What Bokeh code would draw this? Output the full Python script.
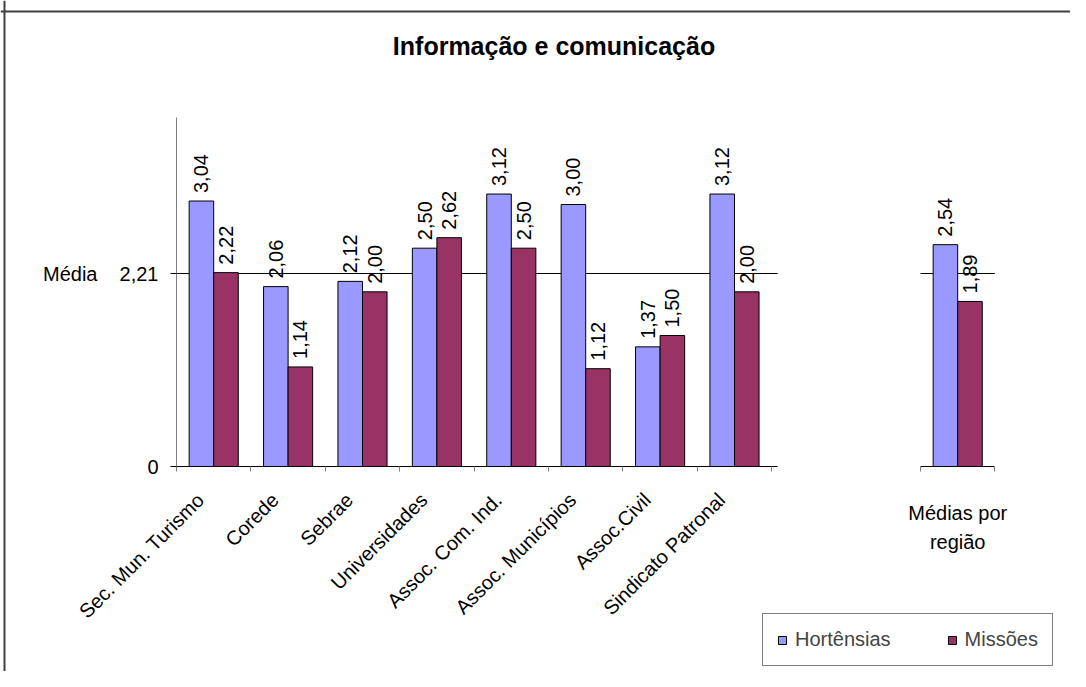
import math
from bokeh.plotting import figure
from bokeh.models import (ColumnDataSource, Range1d, LinearAxis, FixedTicker,
                          Legend, LegendItem, Span)
from bokeh.core.properties import value
from bokeh.embed import file_html
from bokeh.resources import INLINE

# ---------------- data ----------------
title = "Informação e comunicação"
categorias = ["Sec. Mun. Turismo", "Corede", "Sebrae", "Universidades",
              "Assoc. Com. Ind.", "Assoc. Municípios", "Assoc.Civil",
              "Sindicato Patronal"]
hortensias = [3.04, 2.06, 2.12, 2.50, 3.12, 3.00, 1.37, 3.12]
missoes = [2.22, 1.14, 2.00, 2.62, 2.50, 1.12, 1.50, 2.00]
regiao_label = "Médias por\nregião"
media_hortensias = 2.54
media_missoes = 1.89
media_geral = 2.21
media_label = "Média"
y_ticks = [0, 2.21]
y_tick_labels = ["0", "2,21"]
series = ["Hortênsias", "Missões"]
colors = ["#9999FF", "#993366"]

FONT = "Liberation Sans"
FS = "20px"


def fmt(v):
    return f"{v:.2f}".replace(".", ",")


# ---------------- layout ----------------
W, H = 1070, 671
n = len(categorias)
region_slot = n + 2.5          # center of the separate "Médias por região" slot
bar_w = 0.33

p = figure(width=W, height=H,
           x_range=Range1d(-2.3656, 12.0161), y_range=Range1d(-2.3474, 5.3361),
           output_backend="svg", toolbar_location=None,
           x_axis_location=None, y_axis_location=None,
           min_border=0, outline_line_color=None,
           background_fill_color="white", border_fill_color="white")
p.xgrid.visible = False
p.ygrid.visible = False

# y axis (left panel)
yaxis = LinearAxis(fixed_location=0, bounds=(0, 4),
                   ticker=FixedTicker(ticks=y_ticks),
                   major_label_overrides=dict(zip(y_ticks, y_tick_labels)),
                   axis_line_color="#808080", axis_line_width=1,
                   major_tick_line_color="black", major_tick_out=6, major_tick_in=0,
                   minor_tick_out=0, minor_tick_in=0,
                   major_label_standoff=12,
                   major_label_text_font=FONT, major_label_text_font_size=FS,
                   major_label_text_color="black")
p.add_layout(yaxis, "left")

# category axes (left group and region group)
left_ticks = list(range(n + 1))
xaxis1 = LinearAxis(fixed_location=0, bounds=(0, n + 0.08),
                    ticker=FixedTicker(ticks=left_ticks),
                    major_label_overrides={t: "" for t in left_ticks},
                    axis_line_color="black", major_tick_line_color="#808080",
                    major_tick_out=5, major_tick_in=0,
                    minor_tick_out=0, minor_tick_in=0)
p.add_layout(xaxis1, "below")
right_ticks = [region_slot - 0.5, region_slot + 0.5]
xaxis2 = LinearAxis(fixed_location=0, bounds=(right_ticks[0], right_ticks[1]),
                    ticker=FixedTicker(ticks=right_ticks),
                    major_label_overrides={t: "" for t in right_ticks},
                    axis_line_color="black", major_tick_line_color="#808080",
                    major_tick_out=5, major_tick_in=0,
                    minor_tick_out=0, minor_tick_in=0)
p.add_layout(xaxis2, "below")

# average line (behind the bars)
p.segment(x0=[0, right_ticks[0]], x1=[n + 0.08, right_ticks[1]],
          y0=[media_geral, media_geral], y1=[media_geral, media_geral],
          line_color="black", line_width=1)

# bars
xs = [i + 0.5 for i in range(n)] + [region_slot]
src_h = ColumnDataSource(dict(x=[v - bar_w / 2 for v in xs],
                              top=hortensias + [media_hortensias],
                              lab=[fmt(v) for v in hortensias + [media_hortensias]]))
src_m = ColumnDataSource(dict(x=[v + bar_w / 2 for v in xs],
                              top=missoes + [media_missoes],
                              lab=[fmt(v) for v in missoes + [media_missoes]]))
r1 = p.vbar(x="x", top="top", bottom=0, width=bar_w, source=src_h,
            fill_color=colors[0], line_color="black", line_width=1)
r2 = p.vbar(x="x", top="top", bottom=0, width=bar_w, source=src_m,
            fill_color=colors[1], line_color="black", line_width=1)

# value labels
for src in (src_h, src_m):
    p.text(x="x", y="top", text="lab", source=src, angle=math.pi / 2,
           text_align="left", text_baseline="middle", y_offset=-8,
           text_font=value(FONT), text_font_size=FS, text_color="black")

# category labels
p.text(x=[i + 0.5 for i in range(n)], y=[0] * n, text=categorias,
       angle=math.pi / 4, text_align="right", text_baseline="middle",
       x_offset=-13, y_offset=30,
       text_font=value(FONT), text_font_size=FS, text_color="black")
p.text(x=[region_slot], y=[0], text=[regiao_label],
       text_align="center", text_baseline="top", y_offset=35, text_line_height=1.35,
       text_font=value(FONT), text_font_size=FS, text_color="black")

# "Média" label next to the 2,21 tick
p.text(x=[-1.062], y=[media_geral], text=[media_label],
       text_align="right", text_baseline="middle",
       text_font=value(FONT), text_font_size=FS, text_color="black")

# title
p.text(x=[5.074], y=[4.81], text=[title], text_align="center", text_baseline="middle",
       text_font=value(FONT), text_font_size="25px", text_font_style="bold",
       text_color="black")

# chart-area border (top and left edges)
p.add_layout(Span(location=5.21, dimension="width", line_color="#404040", line_width=2))
p.add_layout(Span(location=-2.312, dimension="height", line_color="#404040", line_width=2))

legend = Legend(items=[LegendItem(label=series[0], renderers=[r1]),
                       LegendItem(label=series[1], renderers=[r2])],
                orientation="horizontal", location=(762, 5),
                padding=14, spacing=56, label_standoff=8, margin=0,
                glyph_width=10, glyph_height=10,
                label_text_font=FONT, label_text_font_size=FS,
                border_line_color="black", border_line_width=1,
                background_fill_color="white", background_fill_alpha=1)
p.add_layout(legend)

open("out.html", "w").write(file_html(p, INLINE))
